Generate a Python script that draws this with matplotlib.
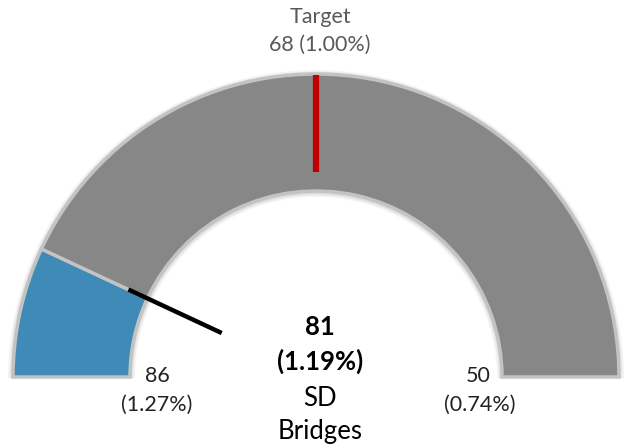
import matplotlib
matplotlib.use("Agg")
import matplotlib.pyplot as plt
from matplotlib.patches import Wedge
import numpy as np

# data
gauge_min = 86
gauge_max = 50
min_pct = "1.27%"
max_pct = "0.74%"
value = 81
value_pct = "1.19%"
target = 68
target_pct = "1.00%"
name_lines = ["SD", "Bridges"]

fig = plt.figure(figsize=(6.24, 4.48), dpi=100)
ax = fig.add_axes([0, 0, 1, 1])
ax.set_xlim(0, 624)
ax.set_ylim(448, 0)
ax.set_aspect("equal")
ax.axis("off")

cx, cy = 316, 377
r_out, r_in = 303, 186

def ang(v):
    frac = (v - gauge_min) / (gauge_max - gauge_min)
    return 180 - 180 * frac

font = ["Lato", "DejaVu Sans"]
border = "#c3c3c3"

a_val = ang(value)

# soft shadow
for k, al in [(5, 0.04), (3.5, 0.05), (2, 0.06)]:
    ax.add_patch(Wedge((cx, cy + 1), r_out + k, -180, 0, width=r_out - r_in + 2 * k,
                       facecolor="black", edgecolor="none", alpha=al, zorder=1))

def wedge(a1, a2, color):
    w = Wedge((cx, cy), r_out, -a2, -a1, width=r_out - r_in,
              facecolor=color, edgecolor=border, linewidth=2.5, zorder=2)
    ax.add_patch(w)

wedge(a_val, 180, "#3f8ab6")
wedge(0, a_val, "#878787")

def radial(v, r1, r2, color, lw, z):
    t = np.deg2rad(ang(v))
    ax.plot([cx + r1 * np.cos(t), cx + r2 * np.cos(t)],
            [cy - r1 * np.sin(t), cy - r2 * np.sin(t)],
            color=color, lw=lw, solid_capstyle="butt", zorder=z)

radial(target, 205, 302, "#c00000", 4.5, 3)
radial(value, 104, 207, "black", 3.2, 4)

gray_txt = "#595959"
gs = 15.5
ax.text(320, 17, "Target", ha="center", va="center", fontsize=gs, color=gray_txt, family=font)
ax.text(320, 45, f"{target} ({target_pct})", ha="center", va="center", fontsize=gs, color=gray_txt, family=font)

ax.text(157, 376, f"{gauge_min}", ha="center", va="center", fontsize=gs, color="#222222", family=font)
ax.text(157, 405, f"({min_pct})", ha="center", va="center", fontsize=gs, color="#222222", family=font)
ax.text(478, 376, f"{gauge_max}", ha="center", va="center", fontsize=gs, color="#222222", family=font)
ax.text(480, 405, f"({max_pct})", ha="center", va="center", fontsize=gs, color="#222222", family=font)

cs = 18.5
ax.text(320, 327, f"{value}", ha="center", va="center", fontsize=cs, fontweight="bold", color="black", family=font)
ax.text(320, 361, f"({value_pct})", ha="center", va="center", fontsize=cs, fontweight="bold", color="black", family=font)
ax.text(320, 398, name_lines[0], ha="center", va="center", fontsize=cs, color="black", family=font)
ax.text(320, 432, name_lines[1], ha="center", va="center", fontsize=cs, color="black", family=font)

fig.savefig("out.png", dpi=100)
